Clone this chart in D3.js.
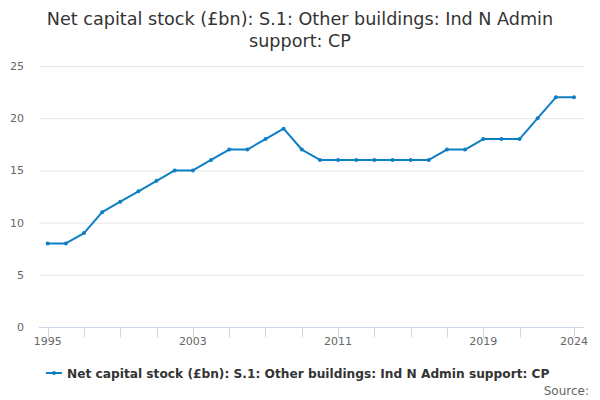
<!DOCTYPE html>
<html>
<head>
<meta charset="utf-8">
<script src="https://cdn.jsdelivr.net/npm/d3@7"></script>
<style>
  body { margin: 0; background: #fff; }
  svg { font-family: "DejaVu Sans", sans-serif; }
</style>
</head>
<body>
<svg id="chart" width="600" height="400"></svg>
<script>
'use strict';

const years = [1995, 1996, 1997, 1998, 1999, 2000, 2001, 2002, 2003, 2004,
    2005, 2006, 2007, 2008, 2009, 2010, 2011, 2012, 2013, 2014,
    2015, 2016, 2017, 2018, 2019, 2020, 2021, 2022, 2023, 2024]
const values = [8, 8, 9, 11, 12, 13, 14, 15, 15, 16,
    17, 17, 18, 19, 17, 16, 16, 16, 16, 16,
    16, 16, 17, 17, 18, 18, 18, 20, 22, 22]
const yTicks = [0, 5, 10, 15, 20, 25]
const xTicks = [1995, 1997, 1999, 2001, 2003, 2005, 2007, 2009, 2011, 2013,
    2015, 2017, 2019, 2021, 2024]
const xLabels = [1995, 2003, 2011, 2019, 2024]
const seriesName = 'Net capital stock (£bn): S.1: Other buildings: Ind N Admin support: CP'
const titleLines = ['Net capital stock (£bn): S.1: Other buildings: Ind N Admin',
    'support: CP']

const color = '#0f7fc3'
let left = 39, right = 584

let svg = d3.select('#chart')

let x = d3.scaleLinear().domain([1995, 2024]).range([47.7, 574])
let y = d3.scaleLinear().domain([0, 25]).range([327, 66])

// title
svg.append('g').selectAll('text')
    .data(titleLines)
    .join('text')
    .attr('x', 300)
    .attr('y', (d, i) => 25 + i * 22)
    .attr('text-anchor', 'middle')
    .attr('font-size', 17.6)
    .attr('fill', '#333')
    .text(d => d)

// grid
svg.append('g').selectAll('line')
    .data(yTicks.filter(d => d > 0))
    .join('line')
    .attr('x1', left).attr('x2', right)
    .attr('y1', d => y(d) + 0.5).attr('y2', d => y(d) + 0.5)
    .attr('stroke', '#e6e6e6')

// y labels
svg.append('g').selectAll('text')
    .data(yTicks)
    .join('text')
    .attr('x', 24)
    .attr('y', d => y(d) + 4)
    .attr('text-anchor', 'end')
    .attr('font-size', 11)
    .attr('fill', '#666')
    .text(d => d)

// x axis
let xAxis = svg.append('g').attr('transform', 'translate(0,' + (y(0) + 0.5) + ')')
xAxis.append('line')
    .attr('x1', left).attr('x2', right)
    .attr('stroke', '#ccd6eb')
xAxis.selectAll('.tick')
    .data(xTicks)
    .join('line')
    .attr('class', 'tick')
    .attr('x1', d => Math.round(x(d)) + 0.5).attr('x2', d => Math.round(x(d)) + 0.5)
    .attr('y1', 0).attr('y2', 10)
    .attr('stroke', '#ccd6eb')
xAxis.selectAll('.lbl')
    .data(xLabels)
    .join('text')
    .attr('class', 'lbl')
    .attr('x', d => x(d))
    .attr('y', 17)
    .attr('text-anchor', 'middle')
    .attr('font-size', 11)
    .attr('fill', '#666')
    .text(d => d)

// series
let line = d3.line()
    .x((d, i) => x(years[i]))
    .y(d => y(d))
svg.append('path')
    .datum(values)
    .attr('d', line)
    .attr('fill', 'none')
    .attr('stroke', color)
    .attr('stroke-width', 2)
    .attr('stroke-linejoin', 'round')
svg.append('g').selectAll('circle')
    .data(values)
    .join('circle')
    .attr('cx', (d, i) => x(years[i]))
    .attr('cy', d => y(d))
    .attr('r', 2)
    .attr('fill', color)

// legend
let legend = svg.append('g').attr('transform', 'translate(46,373)')
legend.append('line')
    .attr('x1', 0).attr('x2', 16)
    .attr('stroke', color).attr('stroke-width', 2)
legend.append('circle')
    .attr('cx', 8).attr('r', 2)
    .attr('fill', color)
legend.append('text')
    .attr('x', 21)
    .attr('y', 4.5)
    .attr('font-size', 12.2)
    .attr('font-weight', 'bold')
    .attr('fill', '#333')
    .text(seriesName)

svg.append('text')
    .attr('x', 589)
    .attr('y', 395)
    .attr('text-anchor', 'end')
    .attr('font-size', 12)
    .attr('fill', '#666')
    .text('Source:')
</script>
</body>
</html>
